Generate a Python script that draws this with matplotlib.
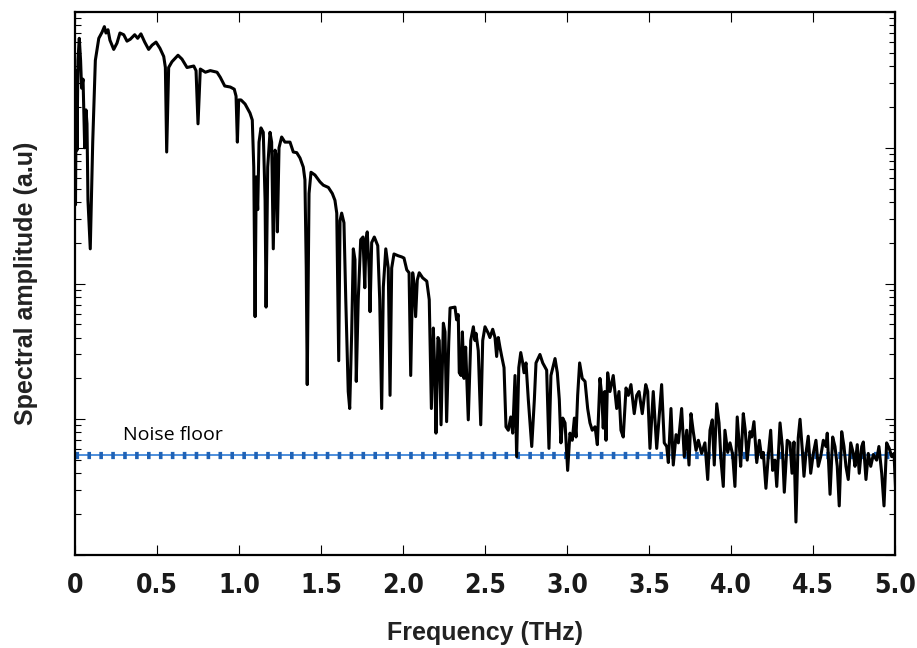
import matplotlib
matplotlib.use("Agg")
import matplotlib.pyplot as plt
from matplotlib.ticker import LogLocator, NullFormatter

# spectrum (frequency in THz, amplitude in a.u.)
freq_thz = [
    0.000, 0.003, 0.008, 0.012, 0.018, 0.026, 0.034, 0.040, 0.049, 0.059,
    0.067, 0.073, 0.079, 0.093, 0.108, 0.124, 0.145, 0.165, 0.179, 0.189,
    0.201, 0.213, 0.236, 0.256, 0.274, 0.297, 0.317, 0.337, 0.364, 0.382,
    0.402, 0.425, 0.449, 0.470, 0.494, 0.518, 0.541, 0.551, 0.559, 0.571,
    0.591, 0.628, 0.652, 0.683, 0.724, 0.738, 0.750, 0.764, 0.795, 0.825,
    0.866, 0.886, 0.913, 0.947, 0.971, 0.982, 0.990, 0.998, 1.012, 1.037,
    1.067, 1.081, 1.090, 1.098, 1.105, 1.114, 1.122, 1.134, 1.148, 1.159,
    1.165, 1.175, 1.189, 1.199, 1.209, 1.220, 1.228, 1.234, 1.244, 1.260,
    1.280, 1.311, 1.331, 1.352, 1.372, 1.392, 1.402, 1.410, 1.416, 1.427,
    1.439, 1.463, 1.494, 1.514, 1.545, 1.569, 1.585, 1.596, 1.602, 1.608,
    1.616, 1.626, 1.640, 1.651, 1.666, 1.675, 1.687, 1.697, 1.707, 1.715,
    1.727, 1.742, 1.756, 1.767, 1.774, 1.782, 1.793, 1.799, 1.809, 1.825,
    1.846, 1.858, 1.870, 1.880, 1.895, 1.910, 1.921, 1.931, 1.945, 1.971,
    1.992, 2.006, 2.023, 2.037, 2.047, 2.059, 2.067, 2.077, 2.087, 2.099,
    2.120, 2.145, 2.160, 2.173, 2.185, 2.193, 2.201, 2.213, 2.221, 2.232,
    2.246, 2.256, 2.266, 2.279, 2.287, 2.317, 2.327, 2.337, 2.343, 2.354,
    2.362, 2.372, 2.382, 2.398, 2.413, 2.429, 2.439, 2.445, 2.459, 2.474,
    2.486, 2.500, 2.520, 2.530, 2.547, 2.561, 2.571, 2.581, 2.591, 2.602,
    2.616, 2.628, 2.642, 2.657, 2.669, 2.683, 2.693, 2.706, 2.718, 2.730,
    2.738, 2.750, 2.764, 2.785, 2.801, 2.811, 2.835, 2.852, 2.876, 2.890,
    2.902, 2.927, 2.941, 2.953, 2.963, 2.974, 2.988, 3.004, 3.018, 3.032,
    3.045, 3.055, 3.065, 3.077, 3.093, 3.110, 3.126, 3.140, 3.154, 3.171,
    3.185, 3.201, 3.212, 3.221, 3.230, 3.238, 3.248, 3.262, 3.282, 3.303,
    3.317, 3.329, 3.343, 3.360, 3.374, 3.390, 3.410, 3.425, 3.439, 3.459,
    3.480, 3.492, 3.506, 3.526, 3.547, 3.577, 3.593, 3.608, 3.618, 3.634,
    3.648, 3.665, 3.679, 3.699, 3.715, 3.730, 3.744, 3.756, 3.770, 3.787,
    3.801, 3.821, 3.841, 3.858, 3.872, 3.886, 3.898, 3.913, 3.927, 3.939,
    3.953, 3.963, 3.980, 3.994, 4.010, 4.024, 4.038, 4.051, 4.059, 4.075,
    4.087, 4.099, 4.116, 4.126, 4.140, 4.157, 4.173, 4.187, 4.197, 4.213,
    4.228, 4.242, 4.254, 4.268, 4.279, 4.299, 4.313, 4.325, 4.343, 4.360,
    4.372, 4.384, 4.396, 4.410, 4.421, 4.435, 4.445, 4.457, 4.471, 4.486,
    4.502, 4.518, 4.532, 4.547, 4.563, 4.579, 4.587, 4.604, 4.620, 4.634,
    4.648, 4.660, 4.675, 4.689, 4.701, 4.715, 4.730, 4.746, 4.756, 4.770,
    4.782, 4.797, 4.807, 4.823, 4.837, 4.852, 4.868, 4.888, 4.902, 4.919,
    4.933, 4.949, 4.965, 4.980, 4.994, 5.004,
]

amplitude = [
    0.34, 0.038, 0.37, 0.096, 0.44, 0.64, 0.44, 0.275, 0.32, 0.10,
    0.19, 0.15, 0.041, 0.018, 0.11, 0.44, 0.64, 0.71, 0.78, 0.70,
    0.74, 0.62, 0.53, 0.59, 0.70, 0.68, 0.61, 0.63, 0.68, 0.64,
    0.69, 0.60, 0.53, 0.57, 0.60, 0.54, 0.47, 0.39, 0.093, 0.39,
    0.43, 0.48, 0.45, 0.39, 0.40, 0.37, 0.15, 0.38, 0.36, 0.37,
    0.36, 0.33, 0.285, 0.28, 0.27, 0.24, 0.11, 0.225, 0.225, 0.21,
    0.18, 0.16, 0.072, 0.0057, 0.061, 0.035, 0.11, 0.14, 0.13, 0.041,
    0.0067, 0.072, 0.13, 0.11, 0.018, 0.096, 0.086, 0.024, 0.10, 0.12,
    0.11, 0.11, 0.093, 0.092, 0.084, 0.072, 0.058, 0.013, 0.0018, 0.046,
    0.066, 0.063, 0.056, 0.053, 0.051, 0.046, 0.041, 0.033, 0.010, 0.0027,
    0.029, 0.033, 0.028, 0.0076, 0.0016, 0.0012, 0.0043, 0.018, 0.015, 0.0019,
    0.0076, 0.021, 0.022, 0.0093, 0.021, 0.024, 0.013, 0.0062, 0.020, 0.022,
    0.019, 0.0076, 0.0012, 0.0094, 0.018, 0.013, 0.0015, 0.013, 0.0165, 0.016,
    0.0157, 0.0154, 0.0126, 0.012, 0.0021, 0.012, 0.010, 0.0057, 0.0106, 0.012,
    0.011, 0.0104, 0.0076, 0.0012, 0.0047, 0.0024, 0.00079, 0.0040, 0.0038, 0.00091,
    0.0051, 0.0044, 0.00096, 0.0037, 0.0066, 0.0067, 0.0054, 0.0059, 0.0022, 0.0021,
    0.0044, 0.0020, 0.0034, 0.00099, 0.0038, 0.0048, 0.0038, 0.0043, 0.0032, 0.00091,
    0.0038, 0.0048, 0.0043, 0.0040, 0.0046, 0.0040, 0.0029, 0.0040, 0.0034, 0.0029,
    0.0024, 0.00088, 0.00083, 0.00104, 0.00079, 0.0021, 0.00053, 0.0024, 0.0031, 0.0026,
    0.0022, 0.0026, 0.0014, 0.00063, 0.0014, 0.0026, 0.0030, 0.0026, 0.0023, 0.00061,
    0.0021, 0.0028, 0.0022, 0.0014, 0.00067, 0.00102, 0.00094, 0.00042, 0.00079, 0.00070,
    0.00102, 0.00074, 0.0015, 0.0026, 0.0020, 0.0019, 0.0012, 0.00094, 0.00083, 0.00088,
    0.00065, 0.0020, 0.0015, 0.00086, 0.0016, 0.00070, 0.0022, 0.0016, 0.0021, 0.0012,
    0.0016, 0.00083, 0.00074, 0.0017, 0.0015, 0.0018, 0.0011, 0.0015, 0.0016, 0.0011,
    0.0018, 0.0016, 0.00061, 0.0016, 0.00061, 0.0018, 0.00067, 0.00063, 0.00048, 0.0012,
    0.00046, 0.00077, 0.00067, 0.0012, 0.00053, 0.00083, 0.00046, 0.0011, 0.00081, 0.00059,
    0.00070, 0.00056, 0.00067, 0.00036, 0.00083, 0.00099, 0.00046, 0.0013, 0.00094, 0.00050,
    0.00032, 0.00083, 0.00057, 0.00067, 0.00055, 0.00032, 0.00104, 0.00063, 0.00045, 0.0011,
    0.00083, 0.00050, 0.00081, 0.00074, 0.00096, 0.00048, 0.00070, 0.00052, 0.00057, 0.00031,
    0.00055, 0.00083, 0.00042, 0.00050, 0.00032, 0.00094, 0.00063, 0.00029, 0.00070, 0.00067,
    0.00040, 0.00068, 0.000175, 0.00073, 0.0010, 0.00059, 0.00038, 0.00056, 0.00075, 0.00040,
    0.00056, 0.00070, 0.00045, 0.00053, 0.00070, 0.00063, 0.00079, 0.00028, 0.00074, 0.00063,
    0.00045, 0.00023, 0.00081, 0.00063, 0.00045, 0.00036, 0.00067, 0.00056, 0.00045, 0.00065,
    0.00040, 0.00063, 0.00068, 0.00036, 0.00056, 0.00045, 0.00055, 0.00050, 0.00063, 0.00040,
    0.00023, 0.00067, 0.00061, 0.00053, 0.00056, 0.00030,
]

noise_floor = 5.5e-4
x_ticks = [0, 0.5, 1.0, 1.5, 2.0, 2.5, 3.0, 3.5, 4.0, 4.5, 5.0]
x_tick_labels = ["0", "0.5", "1.0", "1.5", "2.0", "2.5", "3.0", "3.5", "4.0", "4.5", "5.0"]

plt.rcParams['font.family'] = ['Liberation Sans', 'DejaVu Sans']

fig = plt.figure(figsize=(9.17, 6.48), dpi=100)
ax = fig.add_axes([0.0818, 0.1435, 0.8942, 0.838])

# noise floor: thin line plus thick short dashes
ax.axhline(noise_floor, color='#4f8fdc', lw=1.4, zorder=2)
ax.axhline(noise_floor, color='#1f62b6', lw=5.2,
           linestyle=(0, (0.5, 1.15)), dash_capstyle='butt', zorder=2)

ax.plot(freq_thz, amplitude, color='black', lw=2.2, zorder=3)

ax.text(0.29, 6.6e-4, "Noise floor", fontsize=14, family=['Open Sans', 'DejaVu Sans'],
        va='bottom', ha='left')

ax.set_yscale('log')
ax.set_xlim(0, 5)
ax.set_ylim(1e-4, 1)

ax.set_xticks(x_ticks)
ax.set_xticklabels(x_tick_labels, fontsize=19, fontweight='bold',
                   family='DejaVu Sans', fontstretch='condensed', color='#1a1a1a')
ax.yaxis.set_major_locator(LogLocator(base=10, numticks=10))
ax.yaxis.set_minor_locator(LogLocator(base=10, subs=range(2, 10), numticks=20))
ax.yaxis.set_major_formatter(NullFormatter())
ax.yaxis.set_minor_formatter(NullFormatter())

ax.tick_params(axis='both', which='both', direction='in', top=True, right=True)
ax.tick_params(axis='both', which='major', length=7, width=0.8, pad=13)
ax.tick_params(axis='y', which='minor', length=4, width=0.8)
ax.tick_params(axis='x', which='minor', bottom=False, top=False)

for s in ax.spines.values():
    s.set_linewidth(1.6)

ax.set_xlabel("Frequency (THz)", fontsize=18, fontweight='bold', labelpad=16, color='#222222')
ax.set_ylabel("Spectral amplitude (a.u)", fontsize=18, fontweight='bold', labelpad=14, color='#222222')

fig.savefig("out.png", dpi=100)
